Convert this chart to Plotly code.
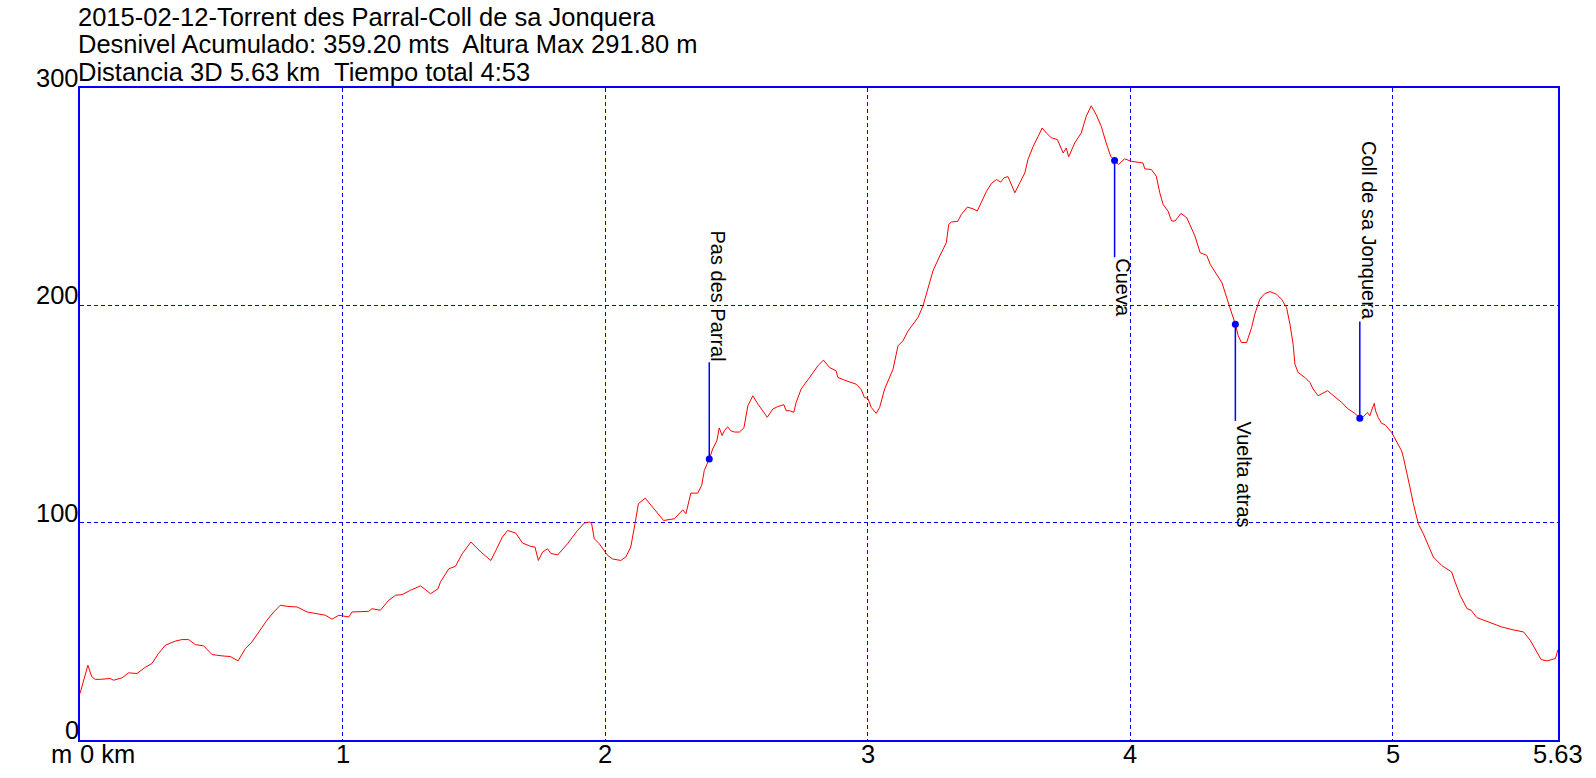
import plotly.graph_objects as go

title_lines = [
    "2015-02-12-Torrent des Parral-Coll de sa Jonquera",
    "Desnivel Acumulado: 359.20 mts  Altura Max 291.80 m",
    "Distancia 3D 5.63 km  Tiempo total 4:53",
]

dist_km = [
    0.000, 0.030, 0.045, 0.058, 0.077, 0.115, 0.128, 0.160, 0.185, 0.217, 0.248, 0.274, 0.299, 0.325,
    0.363, 0.388, 0.414, 0.439, 0.471, 0.503, 0.541, 0.573, 0.602, 0.630, 0.655, 0.680, 0.712, 0.738,
    0.763, 0.789, 0.827, 0.865, 0.897, 0.935, 0.960, 0.986, 1.024, 1.036, 1.100, 1.112, 1.144, 1.176,
    1.202, 1.227, 1.259, 1.297, 1.316, 1.335, 1.364, 1.373, 1.405, 1.430, 1.456, 1.489, 1.527, 1.565,
    1.584, 1.609, 1.629, 1.660, 1.686, 1.717, 1.733, 1.746, 1.762, 1.781, 1.794, 1.820, 1.857, 1.895,
    1.921, 1.940, 1.949, 1.959, 1.978, 1.997, 2.010, 2.029, 2.060, 2.079, 2.098, 2.114, 2.127, 2.153,
    2.175, 2.200, 2.223, 2.264, 2.283, 2.296, 2.308, 2.327, 2.353, 2.368, 2.378, 2.397, 2.410, 2.426,
    2.435, 2.446, 2.455, 2.467, 2.480, 2.493, 2.512, 2.529, 2.544, 2.563, 2.582, 2.601, 2.618, 2.639,
    2.658, 2.681, 2.690, 2.703, 2.719, 2.728, 2.747, 2.779, 2.811, 2.832, 2.855, 2.880, 2.887, 2.925,
    2.957, 2.976, 2.988, 3.001, 3.014, 3.033, 3.046, 3.065, 3.097, 3.116, 3.135, 3.154, 3.173, 3.192,
    3.211, 3.230, 3.249, 3.275, 3.300, 3.309, 3.319, 3.344, 3.357, 3.380, 3.402, 3.418, 3.434, 3.453,
    3.472, 3.491, 3.507, 3.520, 3.535, 3.561, 3.580, 3.599, 3.611, 3.631, 3.650, 3.665, 3.681, 3.700,
    3.723, 3.732, 3.745, 3.757, 3.766, 3.789, 3.814, 3.833, 3.852, 3.871, 3.890, 3.909, 3.926, 3.941,
    3.956, 3.979, 4.004, 4.049, 4.056, 4.081, 4.100, 4.113, 4.126, 4.145, 4.158, 4.171, 4.194, 4.216,
    4.228, 4.247, 4.267, 4.292, 4.305, 4.331, 4.350, 4.380, 4.401, 4.412, 4.424, 4.444, 4.463, 4.475,
    4.494, 4.513, 4.533, 4.558, 4.577, 4.596, 4.609, 4.621, 4.628, 4.640, 4.666, 4.685, 4.697, 4.716,
    4.729, 4.752, 4.780, 4.806, 4.831, 4.856, 4.875, 4.888, 4.904, 4.913, 4.922, 4.930, 4.935, 4.945,
    4.958, 4.971, 4.996, 5.015, 5.034, 5.041, 5.053, 5.066, 5.079, 5.098, 5.117, 5.136, 5.155, 5.187,
    5.225, 5.238, 5.257, 5.283, 5.299, 5.321, 5.366, 5.416, 5.455, 5.499, 5.524, 5.550, 5.566, 5.588,
    5.620, 5.630,
]

elev_m = [
    21.4, 34.4, 29.1, 27.9, 27.9, 28.3, 27.5, 28.6, 30.9, 30.6, 33.4, 35.2, 39.8, 43.6,
    45.5, 46.2, 46.2, 43.9, 43.3, 39.3, 38.7, 38.4, 36.4, 42.1, 45.1, 49.7, 55.1, 58.9,
    62.0, 61.5, 61.2, 58.9, 58.1, 57.4, 55.6, 57.4, 56.6, 58.9, 59.2, 60.4, 59.7, 64.3,
    66.6, 66.9, 68.9, 70.9, 69.2, 67.3, 69.6, 72.7, 78.8, 79.9, 85.7, 91.1, 86.5, 82.6,
    87.2, 93.4, 96.4, 95.2, 90.6, 89.1, 88.8, 82.6, 86.5, 88.0, 85.8, 85.2, 90.3, 96.4,
    99.8, 100.3, 99.5, 92.6, 90.3, 87.2, 84.9, 83.3, 82.6, 84.2, 88.8, 99.5, 108.7, 111.3,
    107.9, 104.1, 101.0, 101.8, 104.1, 105.9, 104.1, 113.6, 113.6, 117.1, 124.0, 129.3, 133.9, 137.7,
    143.6, 140.1, 142.4, 144.1, 142.2, 141.7, 141.7, 143.6, 153.8, 158.4, 154.6, 151.5, 148.5, 152.3,
    153.4, 154.3, 151.5, 151.5, 150.8, 155.3, 161.5, 166.8, 172.2, 174.8, 171.4, 169.9, 166.8, 165.0,
    163.7, 161.2, 157.6, 157.2, 153.0, 150.3, 153.0, 161.5, 170.6, 181.4, 183.7, 188.2, 191.3, 194.4,
    199.7, 207.4, 215.8, 222.7, 228.8, 237.2, 238.3, 238.7, 241.8, 245.2, 244.4, 243.4, 247.9, 252.5,
    256.1, 257.9, 256.7, 258.7, 259.2, 251.8, 256.4, 260.9, 267.1, 273.2, 277.8, 281.6, 279.3, 277.1,
    276.3, 274.0, 270.1, 272.4, 268.3, 274.7, 279.3, 287.0, 291.8, 287.7, 282.4, 274.7, 268.6, 266.6,
    264.8, 267.4, 266.3, 265.5, 262.8, 262.5, 259.4, 251.8, 246.4, 243.3, 238.8, 238.8, 242.3, 240.3,
    237.2, 231.9, 224.2, 223.0, 218.9, 214.3, 210.4, 199.0, 191.3, 186.0, 182.9, 182.9, 189.8, 195.9,
    202.8, 205.4, 206.3, 205.1, 202.8, 199.0, 191.3, 182.1, 172.9, 169.1, 166.8, 164.5, 161.5, 158.4,
    159.2, 160.7, 157.9, 155.3, 152.3, 150.3, 148.1, 148.7, 150.7, 149.2, 152.3, 154.9, 151.5, 148.4,
    145.7, 145.1, 141.6, 137.0, 133.1, 130.1, 124.0, 116.3, 108.7, 99.5, 94.9, 89.5, 84.2, 80.3,
    77.3, 72.7, 66.6, 60.5, 59.7, 56.3, 54.3, 52.0, 50.8, 49.7, 45.9, 40.6, 37.0, 36.4,
    37.5, 41.6,
]

wp_names = ["Pas des Parral", "Cueva", "Vuelta atras", "Coll de sa Jonquera"]
wp_km = [2.397, 3.941, 4.401, 4.875]
wp_elev = [129.3, 266.6, 191.3, 148.1]
wp_dir = [1, -1, -1, 1]
wp_stem = 44.5

xtick_vals = [0, 1, 2, 3, 4, 5, 5.63]
xtick_text = ["0 km", "1", "2", "3", "4", "5", "5.63"]
ytick_vals = [0, 100, 200, 300]
ytick_text = ["0", "100", "200", "300"]

BLUE = "#0000FF"
FONT = "Liberation Sans, Arial, sans-serif"
TICKSIZE = 25.5
LABELSIZE = 20

fig = go.Figure()

fig.add_trace(go.Scatter(x=dist_km, y=elev_m, mode="lines",
                         line=dict(color="#FF0000", width=1), hoverinfo="skip"))

for name, xk, ye, d in zip(wp_names, wp_km, wp_elev, wp_dir):
    yend = ye + d * wp_stem
    fig.add_trace(go.Scatter(x=[xk, xk], y=[ye, yend], mode="lines",
                             line=dict(color=BLUE, width=1.5), hoverinfo="skip"))
    fig.add_annotation(x=xk, y=yend, xref="x", yref="y", text=name, textangle=90,
                       showarrow=False, xanchor="center",
                       yanchor="bottom" if d > 0 else "top", xshift=9,
                       font=dict(family=FONT, size=LABELSIZE, color="black"),
                       borderpad=0)

fig.add_trace(go.Scatter(x=wp_km, y=wp_elev, mode="markers",
                         marker=dict(color=BLUE, size=7), hoverinfo="skip"))

for v, t in zip(xtick_vals, xtick_text):
    fig.add_annotation(x=v, y=0, xref="x", yref="paper", text=t, showarrow=False,
                       xanchor="left" if v == 0 else "center", yanchor="middle",
                       yshift=-14, xshift=-2 if v == 0 else 0,
                       font=dict(family=FONT, size=TICKSIZE, color="black"))
fig.add_annotation(x=0, y=0, xref="x", yref="paper", text="m", showarrow=False,
                   xanchor="right", yanchor="middle", yshift=-14, xshift=-6,
                   font=dict(family=FONT, size=TICKSIZE, color="black"))

for v, t in zip(ytick_vals, ytick_text):
    fig.add_annotation(x=0, y=v, xref="paper", yref="y", text=t, showarrow=False,
                       xanchor="right", yanchor="middle", yshift=10, xshift=1,
                       font=dict(family=FONT, size=TICKSIZE, color="black"))

for i, line in enumerate(title_lines):
    fig.add_annotation(x=0, y=1, xref="paper", yref="paper", text=line, showarrow=False,
                       xanchor="left", yanchor="middle", yshift=[71.5, 44, 16.5][i], xshift=-4,
                       font=dict(family=FONT, size=TICKSIZE, color="black"))

fig.update_layout(
    width=1596, height=778,
    margin=dict(l=80, r=38, t=88, b=38),
    paper_bgcolor="white", plot_bgcolor="white",
    showlegend=False,
    hovermode=False,
    xaxis=dict(range=[0, 5.63], tickvals=[1, 2, 3, 4, 5], showticklabels=False, ticks="",
               showgrid=True, gridcolor=BLUE, gridwidth=1, griddash="4px,3px",
               zeroline=False, showline=True, linecolor=BLUE, linewidth=2, mirror=True),
    yaxis=dict(range=[0, 300], tickvals=[100, 200], showticklabels=False, ticks="",
               showgrid=True, gridcolor=BLUE, gridwidth=1, griddash="4px,3px",
               zeroline=False, showline=True, linecolor=BLUE, linewidth=2, mirror=True),
)

# remove the browser's default 8px body margin so the figure sits at the page origin
fig.write_html("out.html",
               config={"displayModeBar": False, "staticPlot": True},
               post_script="document.body.style.margin='0px';document.body.style.overflow='hidden';")
